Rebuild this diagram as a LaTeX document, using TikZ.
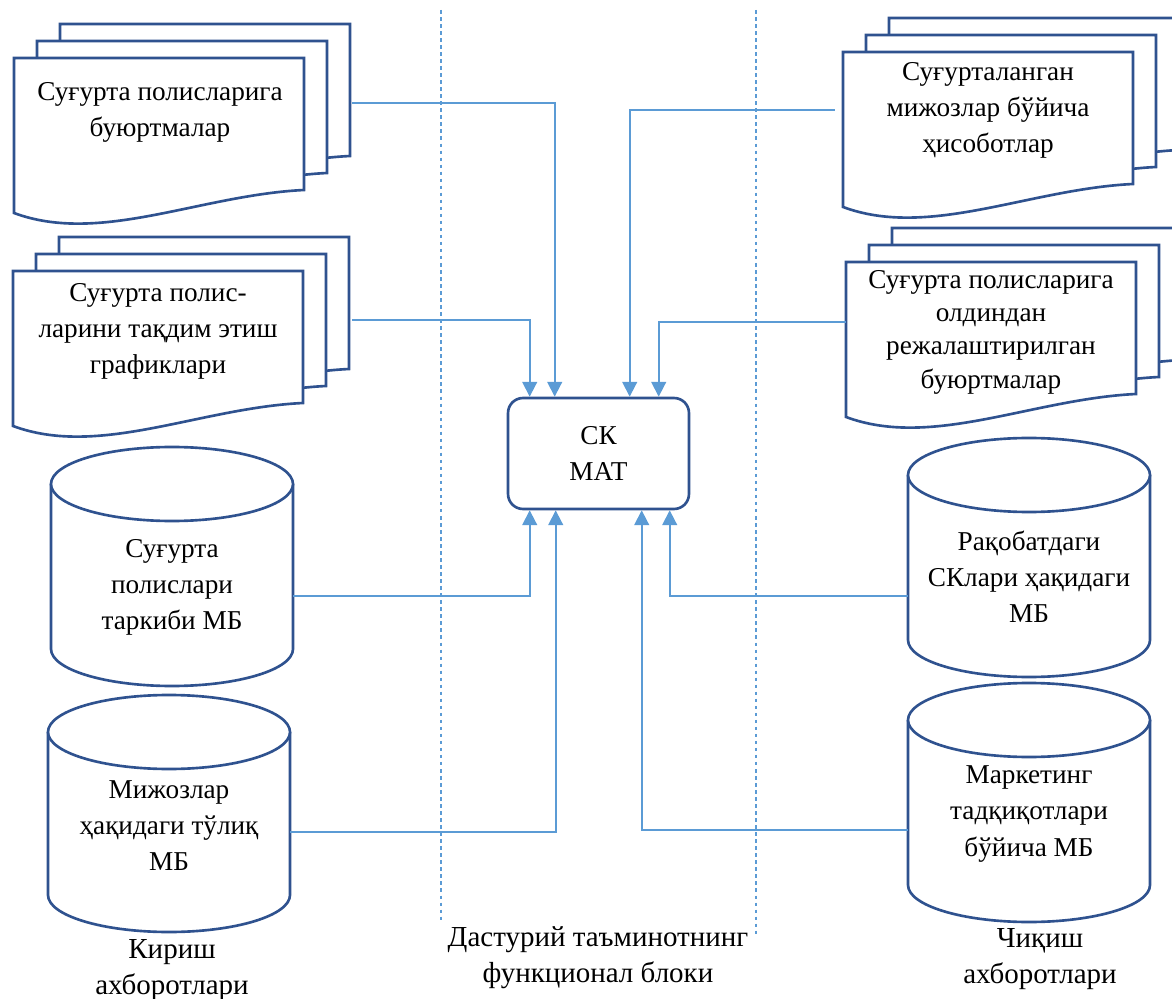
\documentclass[tikz,border=0pt]{standalone}
\usepackage{fontspec}
\setmainfont{Liberation Serif}
\usetikzlibrary{arrows.meta,calc}
\definecolor{shapeblue}{HTML}{2F528F}
\definecolor{linkblue}{HTML}{5B9BD5}

\begin{document}
\begin{tikzpicture}[
        x=0.02cm, y=0.02cm,
        % Contorno di pagine, cilindri e blocco centrale
        outline/.style={draw=shapeblue, line width=1.5pt, fill=white},
        % Testo dentro le forme
        boxtext/.style={font=\fontsize{15.5}{20.5}\selectfont, align=center, inner sep=0pt},
        pagetext/.style={boxtext, minimum width=5.8cm},
        dbtext/.style={boxtext, minimum width=4.84cm},
        % Didascalie in basso
        caption/.style={boxtext, font=\fontsize{16.5}{20.5}\selectfont},
        % Collegamenti con freccia
        link/.style={draw=linkblue, line width=1pt, -{Triangle[width=8.5pt,length=8.5pt]}},
        divider/.style={draw=linkblue, line width=0.6pt, dash pattern=on 2pt off 2pt}
    ]
        \clip (0,0) rectangle (1172,998);

        % --- PILE DI DOCUMENTI ---
        \foreach \x/\y in {14/940, 13/727, 843/946, 846/736}
            \foreach \d in {2,1,0}
                \draw[outline, shift={(\x+23*\d,\y+17*\d)}]
                    (0,0) -- (290,0) -- (290,-132) .. controls (186,-137) and (86,-187) .. (0,-155) -- cycle;

        \node[pagetext] (orders)    at (160,886) {Суғурта полисларига\\буюртмалар};
        \node[pagetext] (schedules) at (158,667) {Суғурта полис-\\ларини тақдим этиш\\графиклари};
        \node[pagetext] (reports)   at (988,888) {Суғурталанган\\мижозлар бўйича\\ҳисоботлар};
        \node[pagetext, font=\fontsize{15.5}{19}\selectfont] (plans) at (991,666)
            {Суғурта полисларига\\олдиндан\\режалаштирилган\\буюртмалар};

        % --- CILINDRI (MB) ---
        \foreach \cx/\top/\bot in {172/514/349, 169/266/103, 1029/523/358, 1029/278/113} {
            \draw[outline] (\cx-121,\top) -- (\cx-121,\bot)
                arc[start angle=180, end angle=360, x radius=121, y radius=37] -- (\cx+121,\top);
            \draw[outline] (\cx,\top) ellipse [x radius=121, y radius=37];
        }

        \node[dbtext] (dbPolicy)  at (172,411) {Суғурта\\полислари\\таркиби МБ};
        \node[dbtext] (dbClients) at (169,172) {Мижозлар\\ҳақидаги тўлиқ\\МБ};
        \node[dbtext] (dbRivals)  at (1029,421) {Рақобатдаги\\СКлари ҳақидаги\\МБ};
        \node[dbtext] (dbMarket)  at (1029,184) {Маркетинг\\тадқиқотлари\\бўйича МБ};

        % --- BLOCCO CENTRALE ---
        \node[outline, boxtext, minimum width=3.62cm, minimum height=2.22cm, rounded corners=0.3cm]
            (mat) at (598.5,544.5) {СК\\МАТ};

        % --- COLLEGAMENTI ---
        \draw[link] ($(orders.east)+(47,9)$)     -| ($(mat.north west)+(48,0)$);
        \draw[link] ($(schedules.east)+(49,11)$) -| ($(mat.north west)+(23,0)$);
        \draw[link] ($(reports.west)+(-8,0)$)    -| ($(mat.north west)+(123,0)$);
        \draw[link] ($(plans.west)+(0,10)$)      -| ($(mat.north west)+(152,0)$);
        \draw[link] ($(dbPolicy.east)+(0,-9)$)   -| ($(mat.south west)+(23,0)$);
        \draw[link] ($(dbClients.east)+(0,-6)$)  -| ($(mat.south west)+(49,0)$);
        \draw[link] ($(dbRivals.west)+(0,-19)$)  -| ($(mat.south west)+(163,0)$);
        \draw[link] ($(dbMarket.west)+(0,-16)$)  -| ($(mat.south west)+(135,0)$);

        % --- LINEE DI SEPARAZIONE ---
        \draw[divider] (441,988) -- (441,75);
        \draw[divider] (756,988) -- (756,63);

        % --- DIDASCALIE ---
        \node[caption] (inputs)   at (172,28)  {Кириш\\ахборотлари};
        \node[caption] (software) at (598,40)  {Дастурий таъминотнинг\\функционал блоки};
        \node[caption] (outputs)  at (1040,39) {Чиқиш\\ахборотлари};

    \end{tikzpicture}
\end{document}
